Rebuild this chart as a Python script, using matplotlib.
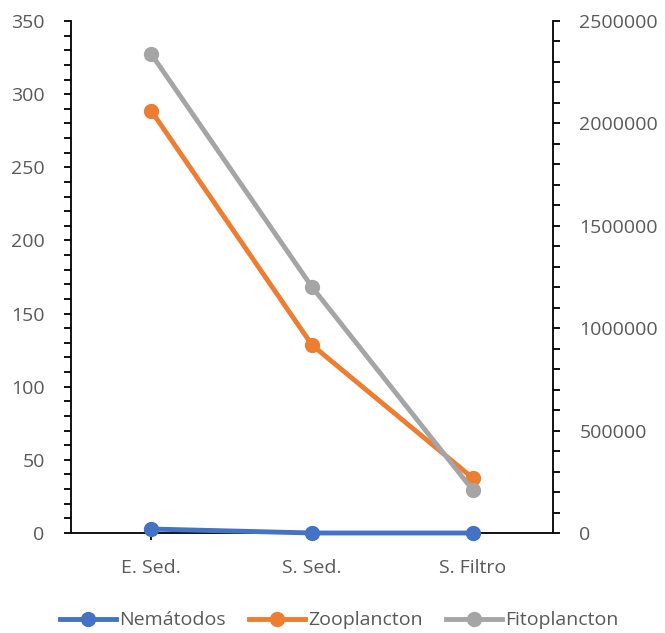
import numpy as np
from matplotlib import pyplot as plt
from matplotlib.ticker import MultipleLocator, FormatStrFormatter

categories = ["E. Sed.", "S. Sed.", "S. Filtro"]
nematodos = [2.7, 0, 0]
zooplancton = [288.5, 128.5, 37.6]
fitoplancton = [2338000, 1201000, 210000]

plt.rcParams['font.family'] = ['Open Sans', 'DejaVu Sans']
GRAY = "#595959"

fig = plt.figure(figsize=(6.65, 6.33), dpi=100)
ax = fig.add_axes([0.1068, 0.158, 0.7248, 0.8088])
ax2 = ax.twinx()

x = np.arange(len(categories))
l1, = ax.plot(x, nematodos, color="#4472C4", lw=3.5, marker="o", ms=10, label="Nemátodos", clip_on=False, zorder=3)
l2, = ax.plot(x, zooplancton, color="#ED7D31", lw=3.5, marker="o", ms=10, label="Zooplancton", clip_on=False)
l3, = ax2.plot(x, fitoplancton, color="#A5A5A5", lw=3.5, marker="o", ms=10, label="Fitoplancton", clip_on=False)

ax.set_xlim(-0.5, 2.5)
ax.set_ylim(0, 350)
ax2.set_ylim(0, 2500000)
ax.yaxis.set_major_locator(MultipleLocator(50))
ax.yaxis.set_minor_locator(MultipleLocator(10))
ax2.yaxis.set_major_locator(MultipleLocator(500000))
ax2.yaxis.set_minor_locator(MultipleLocator(100000))
ax2.yaxis.set_major_formatter(FormatStrFormatter('%d'))
ax.set_xticks(x)
ax.set_xticklabels(categories)

for a in (ax, ax2):
    a.spines['top'].set_visible(False)
    for s in a.spines.values():
        s.set_linewidth(1.3)
    a.tick_params(axis='both', which='major', length=5, width=1.3, labelsize=14, labelcolor=GRAY, pad=6)
    a.tick_params(axis='y', which='minor', length=5, width=1.3)
ax.spines['right'].set_visible(False)
ax2.spines['left'].set_visible(False)
ax2.spines['bottom'].set_visible(False)
ax.tick_params(axis='x', length=5, pad=14)
ax.tick_params(axis='y', which='major', pad=14)
ax2.tick_params(axis='y', which='major', pad=14)

fig.legend(handles=[l1, l2, l3], loc="center", bbox_to_anchor=(0.51, 0.02), ncol=3,
           frameon=False, fontsize=14, labelcolor=GRAY, handlelength=2.9,
           handletextpad=0.15, columnspacing=1.2)

fig.savefig("out.png", dpi=100)
